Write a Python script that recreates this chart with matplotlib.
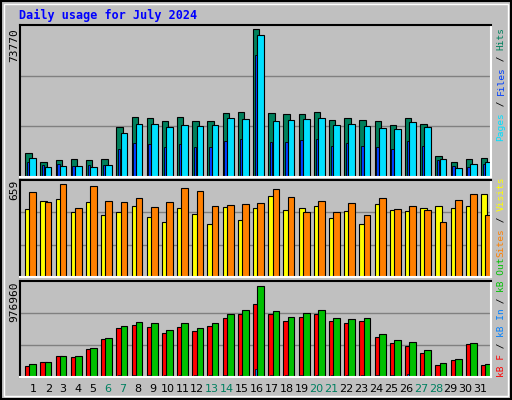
import numpy as np
import matplotlib
matplotlib.use('Agg')
import matplotlib.pyplot as plt

days = np.arange(1, 32)
weekend = [6, 7, 13, 14, 20, 21, 27, 28]

# values (scaled from bar heights)
max_hits = 73770
hits_h = [24, 15, 17, 18, 17, 18, 50, 60, 59, 56, 60, 56, 56, 64, 65, 148,
          64, 63, 63, 65, 57, 59, 57, 56, 52, 59, 53, 21, 15, 18, 19]
files_h = [15, 12, 13, 11, 12, 12, 28, 34, 33, 30, 33, 30, 30, 36, 38, 122,
           35, 35, 37, 38, 31, 34, 31, 30, 28, 36, 31, 17, 11, 10, 13]
pages_h = [19, 10, 11, 11, 10, 12, 44, 53, 53, 50, 52, 51, 52, 59, 58, 142,
           56, 57, 58, 59, 52, 53, 51, 49, 48, 55, 50, 18, 9, 13, 15]
hits = np.array(hits_h) / 148 * max_hits
files = np.array(files_h) / 148 * max_hits
pages = np.array(pages_h) / 148 * max_hits

max_sites = 659
visits_h = [67, 75, 77, 64, 74, 61, 64, 70, 59, 54, 68, 62, 52, 69, 56, 68,
            80, 66, 68, 70, 58, 65, 52, 72, 66, 65, 68, 70, 68, 70, 82]
sites_h = [84, 74, 92, 68, 90, 75, 74, 78, 69, 74, 88, 85, 70, 71, 72, 73,
           87, 79, 64, 75, 64, 73, 61, 78, 67, 70, 66, 54, 76, 82, 61]
visits = np.array(visits_h) / 92 * max_sites
sites = np.array(sites_h) / 92 * max_sites

max_kb = 976960
kbf_h = [11, 15, 21, 20, 28, 38, 49, 52, 50, 44, 50, 46, 51, 59, 63, 73,
         63, 56, 60, 63, 56, 54, 56, 40, 34, 31, 24, 12, 17, 33, 12]
kbout_h = [13, 15, 21, 21, 29, 39, 51, 55, 54, 47, 54, 49, 54, 63, 67, 91,
           66, 60, 64, 67, 59, 58, 59, 43, 37, 35, 27, 14, 18, 34, 13]
kbin_h = [1, 1, 1, 1, 1, 1, 2, 2, 2, 2, 2, 2, 2, 2, 2, 8,
          2, 2, 2, 2, 2, 2, 2, 2, 2, 3, 2, 1, 1, 1, 1]
kbf = np.array(kbf_h) / 91 * max_kb
kbout = np.array(kbout_h) / 91 * max_kb
kbin = np.array(kbin_h) / 91 * max_kb

BG = '#C0C0C0'
fig = plt.figure(figsize=(5.12, 4.0), dpi=100, facecolor=BG)
W, H = 512, 400

def px_axes(x0, y0, x1, y1):
    return fig.add_axes([x0 / W, 1 - y1 / H, (x1 - x0) / W, (y1 - y0) / H])

# outer border
fig.patches.append(plt.Rectangle((0.002, 0.002), 0.996, 0.996, transform=fig.transFigure,
                                 fill=False, edgecolor='black', lw=1.5))
fig.patches.append(plt.Rectangle((4 / W, 4 / H), 1 - 8 / W, 1 - 8 / H, transform=fig.transFigure,
                                 fill=False, edgecolor='white', lw=1))

fig.text(19 / W, 1 - 15 / H, 'Daily usage for July 2024', color='#0000FF',
         family='DejaVu Sans Mono', fontweight='bold', fontsize=8.5, va='center')

def setup(ax, ymax, label, ytop):
    ax.set_facecolor(BG)
    ax.set_xlim(0, 31)
    ax.set_ylim(0, ymax)
    for y in (ymax / 3, 2 * ymax / 3):
        ax.axhline(y, color='#808080', lw=1, zorder=0)
    ax.set_xticks([])
    ax.set_yticks([])
    for s in ('top', 'left'):
        ax.spines[s].set_color('black')
    for s in ('bottom', 'right'):
        ax.spines[s].set_color('white')
    for s in ax.spines.values():
        s.set_linewidth(1.5)
    fig.text(14 / W, 1 - ytop / H, label, rotation=90, family='DejaVu Sans Mono',
             fontsize=8, ha='center', va='top')

def bars(ax, vals, off, width, color, lw=0.8):
    ax.bar(days - 1 + off, vals, width=width, align='edge', color=color,
           edgecolor='black', linewidth=lw)

ax1 = px_axes(20, 25, 491, 177)
setup(ax1, max_hits * 152 / 148, '73770', 28)
bars(ax1, hits, 0.34, 0.42, '#00805C')
bars(ax1, files, 0.45, 0.16, '#0040FF', lw=0.6)
bars(ax1, pages, 0.62, 0.44, '#00E0FF')

ax2 = px_axes(20, 180, 491, 277)
setup(ax2, max_sites * 96 / 92, '659', 180)
bars(ax2, visits, 0.34, 0.42, '#FFFF00')
bars(ax2, sites, 0.62, 0.44, '#FF8000')

ax3 = px_axes(20, 281, 491, 377)
setup(ax3, max_kb * 96 / 91, '976960', 281)
bars(ax3, kbf, 0.34, 0.42, '#FF0000')
bars(ax3, kbin, 0.45, 0.14, '#0080FF', lw=0.5)
bars(ax3, kbout, 0.62, 0.44, '#00C000')

for d in days:
    xc = d - 1 + 0.88 - (d - 1) * 0.019
    col = '#008060' if d in weekend else 'black'
    ax3.text(xc, -0.13, str(d), transform=ax3.get_xaxis_transform(), ha='center',
             va='center', fontsize=8, color=col, family='DejaVu Sans')

# right side legends, written bottom to top in monospace
fs = 6.8
pitch = 0.602 * fs * 100 / 72

def side_label(parts, y_bottom):
    y = y_bottom
    for txt, col in parts:
        fig.text(501 / W, 1 - y / H, txt, rotation=90, color=col, family='DejaVu Sans Mono',
                 fontsize=fs, ha='center', va='bottom')
        y -= pitch * len(txt)

side_label([('Pages', '#00E0FF'), (' / ', 'black'), ('Files', '#0040FF'),
            (' / ', 'black'), ('Hits', '#00805C')], 27 + 20 * pitch)
side_label([('Sites', '#FF8000'), (' / ', 'black'), ('Visits', '#FFFF00')], 177 + 14 * pitch)
side_label([('kB F', '#FF0000'), (' / ', 'black'), ('kB In', '#0080FF'),
            (' / ', 'black'), ('kB Out', '#00C000')], 377)

fig.savefig('out.png', dpi=100, facecolor=BG)
